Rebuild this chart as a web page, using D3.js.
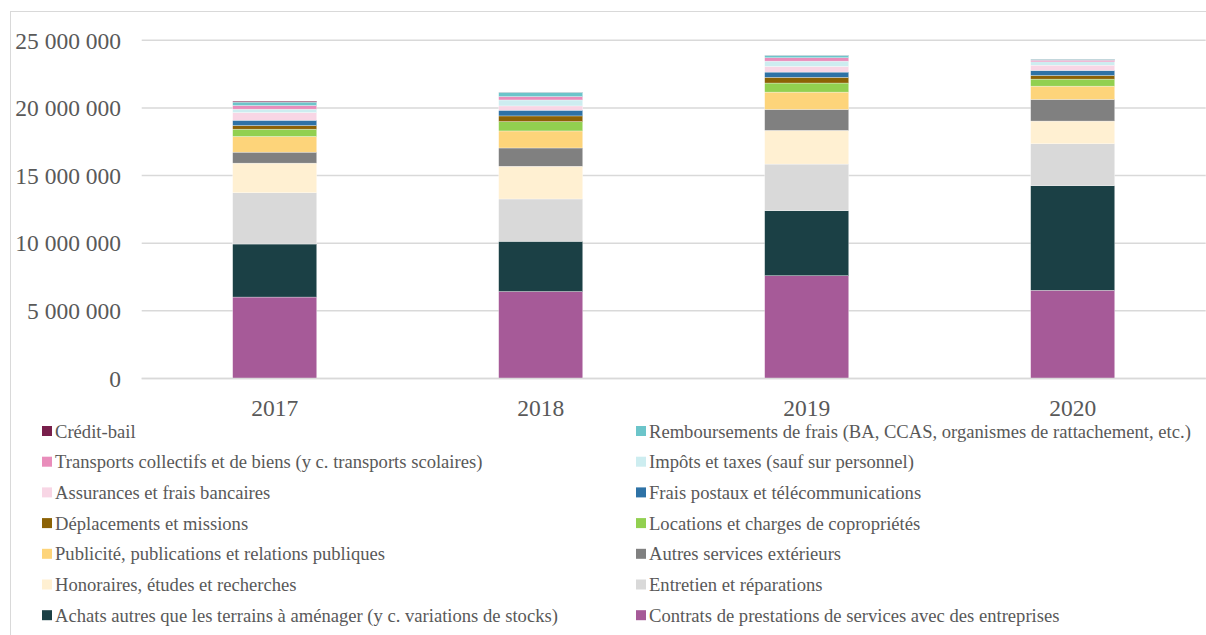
<!DOCTYPE html>
<html><head><meta charset="utf-8">
<script src="https://cdn.jsdelivr.net/npm/d3@7"></script>
<style>
html,body{margin:0;padding:0;background:#fff;}
svg{display:block;font-family:"Liberation Serif",serif;}
</style></head>
<body><svg id="c" width="1206" height="635"></svg>
<script>
const years = ["2017","2018","2019","2020"];
// series listed from bottom of stack to top
const seriesNames = [
 "Contrats de prestations de services avec des entreprises",
 "Achats autres que les terrains à aménager (y c. variations de stocks)",
 "Entretien et réparations",
 "Honoraires, études et recherches",
 "Autres services extérieurs",
 "Publicité, publications et relations publiques",
 "Locations et charges de copropriétés",
 "Déplacements et missions",
 "Frais postaux et télécommunications",
 "Assurances et frais bancaires",
 "Impôts et taxes (sauf sur personnel)",
 "Transports collectifs et de biens (y c. transports scolaires)",
 "Remboursements de frais (BA, CCAS, organismes de rattachement, etc.)",
 "Crédit-bail"
];
const seriesColors = ["#A65A98","#1B4045","#D9D9D9","#FFF0D2","#808080","#FDD47A","#92D050","#8C6205","#2E72A6","#F8D6E5","#CDEDF0","#E98DBB","#6CC5CA","#781F4B"];
const contrats      = [6020000, 6430000, 7600000, 6520000];
const achats        = [3920000, 3710000, 4800000, 7730000];
const entretien     = [3790000, 3130000, 3450000, 3100000];
const honoraires    = [2190000, 2420000, 2490000, 1680000];
const autres        = [810000, 1350000, 1550000, 1600000];
const publicite     = [1160000, 1260000, 1280000, 980000];
const locations     = [540000, 690000, 670000, 520000];
const deplacements  = [270000, 420000, 420000, 270000];
const fraisPostaux  = [390000, 420000, 390000, 370000];
const assurances    = [570000, 320000, 420000, 390000];
const impots        = [250000, 440000, 390000, 250000];
const transports    = [270000, 250000, 250000, 120000];
const remboursements= [250000, 320000, 180000, 70000];
const creditBail    = [70000, 10000, 10000, 10000];
const seriesValues = [contrats, achats, entretien, honoraires, autres, publicite, locations, deplacements, fraisPostaux, assurances, impots, transports, remboursements, creditBail];
const yTicks = [0, 5000000, 10000000, 15000000, 20000000, 25000000];

const svg = d3.select("#c");
const textColor = "#595959";
const gridColor = "#D9D9D9";
const FONT = "Liberation Serif";

// chart border
svg.append("rect").attr("x",10.5).attr("y",11.5).attr("width",1210).attr("height",640)
  .attr("fill","none").attr("stroke",gridColor).attr("stroke-width",1);

const table = years.map((yr,i)=>{const o={year:yr}; seriesNames.forEach((s,j)=>o[s]=seriesValues[j][i]); return o;});
const stack = d3.stack().keys(seriesNames)(table);

const x = d3.scaleBand().domain(years).range([141.7,1205.7]).paddingInner(0.684).paddingOuter(0.342);
const y = d3.scaleLinear().domain([0,25000000]).range([378.5,40.3]);
const loc = d3.formatLocale({decimal:",",thousands:"\u00a0",grouping:[3],currency:["","€"]});
const fmt = loc.format(",d");

// grid
svg.append("g").selectAll("line").data(yTicks).join("line")
  .attr("x1",141.7).attr("x2",1205.7)
  .attr("y1",d=>y(d)).attr("y2",d=>y(d))
  .attr("stroke",gridColor).attr("stroke-width",1.5);

// y axis labels
const yAxis = d3.axisLeft(y).tickValues(yTicks).tickFormat(fmt).tickSize(0).tickPadding(0);
const ga = svg.append("g").attr("transform","translate(121,0)").call(yAxis);
ga.attr("font-family",FONT);
ga.select(".domain").remove();
ga.selectAll("text").attr("fill",textColor).style("font-size","23.5px").style("font-family",FONT).attr("dy","0.33em");

// bars
svg.append("g").selectAll("g").data(stack).join("g")
  .attr("fill",(d,i)=>seriesColors[i])
  .selectAll("rect").data(d=>d).join("rect")
  .attr("x",d=>x(d.data.year))
  .attr("width",x.bandwidth())
  .attr("y",d=>y(d[1]))
  .attr("height",d=>Math.max(0,y(d[0])-y(d[1])))
  .attr("stroke","#ffffff").attr("stroke-width",0.5).attr("stroke-opacity",0.6);

// baseline
svg.append("line").attr("x1",141.7).attr("x2",1205.7).attr("y1",y(0)).attr("y2",y(0))
  .attr("stroke",gridColor).attr("stroke-width",1.5);

// x axis labels
const xAxis = d3.axisBottom(x).tickSize(0).tickPadding(0);
const gx = svg.append("g").attr("transform","translate(0,400)").call(xAxis);
gx.attr("font-family",FONT);
gx.select(".domain").remove();
gx.selectAll("text").attr("fill",textColor).style("font-size","23.5px").style("font-family",FONT).attr("dy","0.7em");

// legend (reverse order, two columns row-wise)
const legendItems = seriesNames.map((n,i)=>({name:n,color:seriesColors[i]})).reverse();
const lg = svg.append("g").selectAll("g").data(legendItems).join("g")
  .attr("transform",(d,i)=>`translate(${i%2===0?42:636},${431+Math.floor(i/2)*30.7})`);
lg.append("rect").attr("x",0).attr("y",-5).attr("width",10).attr("height",10).attr("fill",d=>d.color);
lg.append("text").attr("x",13).attr("y",0).attr("dy","0.35em")
  .attr("fill",textColor).style("font-family",FONT).style("font-size","18.6px").text(d=>d.name);
</script></body></html>
